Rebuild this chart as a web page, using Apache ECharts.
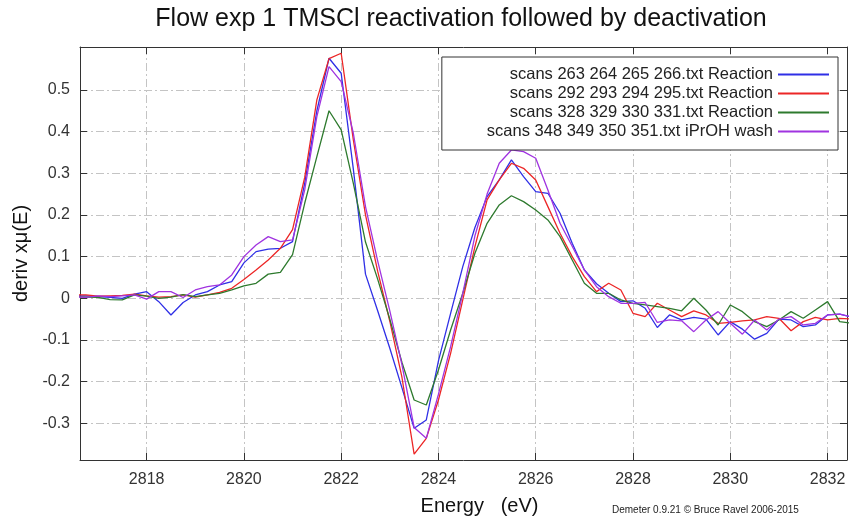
<!DOCTYPE html>
<html>
<head>
<meta charset="utf-8">
<title>Flow exp 1 TMSCl reactivation followed by deactivation</title>
<script src="https://cdn.jsdelivr.net/npm/echarts@6/dist/echarts.min.js"></script>
<style>
  html, body { margin: 0; padding: 0; background: #fff; }
  #chart { width: 852px; height: 522px; }
</style>
</head>
<body>
<div id="chart"></div>
<script>
// energy grid (eV)
const energy = [
  2816.5, 2816.75, 2817, 2817.25, 2817.5, 2817.75, 2818, 2818.25, 2818.5, 2818.75,
  2819, 2819.25, 2819.5, 2819.75, 2820, 2820.25, 2820.5, 2820.75, 2821, 2821.25,
  2821.5, 2821.75, 2822, 2822.25, 2822.5, 2822.75, 2823, 2823.25, 2823.5, 2823.75,
  2824, 2824.25, 2824.5, 2824.75, 2825, 2825.25, 2825.5, 2825.75, 2826, 2826.25,
  2826.5, 2826.75, 2827, 2827.25, 2827.5, 2827.75, 2828, 2828.25, 2828.5, 2828.75,
  2829, 2829.25, 2829.5, 2829.75, 2830, 2830.25, 2830.5, 2830.75, 2831, 2831.25,
  2831.5, 2831.75, 2832, 2832.25, 2832.5
]

// deriv xmu(E) per scan set
const scans263 = [
  0.006, 0.006, 0.004, 0.002, 0.0, 0.01, 0.016, -0.008, -0.04, -0.01,
  0.008, 0.016, 0.032, 0.04, 0.085, 0.112, 0.118, 0.12, 0.136, 0.276,
  0.45, 0.576, 0.54, 0.31, 0.058, -0.03, -0.12, -0.215, -0.312, -0.292,
  -0.15, -0.036, 0.076, 0.17, 0.244, 0.284, 0.332, 0.292, 0.256, 0.252,
  0.204, 0.132, 0.068, 0.035, 0.012, -0.008, -0.006, -0.024, -0.07, -0.04,
  -0.052, -0.046, -0.05, -0.088, -0.056, -0.074, -0.098, -0.084, -0.05, -0.052,
  -0.068, -0.064, -0.04, -0.038, -0.045
]
const scans292 = [
  0.008, 0.008, 0.005, 0.006, 0.007, 0.01, 0.006, 0.003, 0.004, 0.008,
  0.003, 0.008, 0.014, 0.024, 0.045, 0.068, 0.092, 0.12, 0.165, 0.29,
  0.476, 0.575, 0.588, 0.38, 0.2, 0.065, -0.055, -0.19, -0.374, -0.336,
  -0.244, -0.132, -0.004, 0.124, 0.236, 0.284, 0.324, 0.312, 0.284, 0.22,
  0.156, 0.1, 0.052, 0.016, 0.036, 0.02, -0.036, -0.044, -0.012, -0.028,
  -0.044, -0.03, -0.04, -0.06, -0.058, -0.054, -0.052, -0.044, -0.048, -0.078,
  -0.056, -0.046, -0.052, -0.048, -0.05
]
const scans328 = [
  0.004, 0.003, 0.002, -0.003, -0.004, 0.008, 0.005, 0.0, 0.003, 0.009,
  0.004, 0.008, 0.012, 0.02, 0.03, 0.036, 0.058, 0.062, 0.105, 0.228,
  0.34, 0.45, 0.404, 0.276, 0.135, 0.046, -0.05, -0.154, -0.244, -0.256,
  -0.172, -0.076, 0.012, 0.108, 0.18, 0.224, 0.246, 0.232, 0.212, 0.188,
  0.148, 0.092, 0.036, 0.012, 0.012, -0.004, -0.012, -0.016, -0.02, -0.024,
  -0.03, 0.0, -0.028, -0.064, -0.016, -0.032, -0.056, -0.068, -0.052, -0.032,
  -0.048, -0.028, -0.008, -0.056, -0.06
]
const scans348 = [
  0.004, 0.002, 0.006, 0.004, 0.006, 0.008, -0.002, 0.016, 0.016, 0.002,
  0.02, 0.028, 0.032, 0.056, 0.1, 0.128, 0.148, 0.136, 0.14, 0.26,
  0.436, 0.556, 0.52, 0.396, 0.22, 0.09, -0.03, -0.16, -0.31, -0.336,
  -0.23, -0.116, 0.012, 0.15, 0.25, 0.324, 0.356, 0.352, 0.336, 0.26,
  0.18, 0.125, 0.068, 0.028, 0.004, -0.012, -0.012, -0.01, -0.058, -0.052,
  -0.054, -0.08, -0.052, -0.032, -0.06, -0.086, -0.052, -0.076, -0.05, -0.044,
  -0.064, -0.06, -0.04, -0.038, -0.045
]

const seriesNames = [
  'scans 263 264 265 266.txt Reaction',
  'scans 292 293 294 295.txt Reaction',
  'scans 328 329 330 331.txt Reaction',
  'scans 348 349 350 351.txt iPrOH wash'
]
const xTicks = [2818, 2820, 2822, 2824, 2826, 2828, 2830, 2832]
const yTicks = [-0.3, -0.2, -0.1, 0, 0.1, 0.2, 0.3, 0.4, 0.5]

const colors = ['#2f2fe6', '#ec2626', '#2e7a2e', '#a033e0']
const font = 'Liberation Sans, Arial, sans-serif'

const chart = echarts.init(document.getElementById('chart'), null, { renderer: 'canvas' })

const toPairs = vals => energy.map((e, i) => [e, vals[i]])
const allData = [scans263, scans292, scans328, scans348]

const gridDash = [8, 3, 2, 3]
const boxLine = { show: true, onZero: false, lineStyle: { color: '#333', width: 1 } }

const option = {
  animation: false,
  backgroundColor: '#fff',
  textStyle: { fontFamily: font },
  title: {
    text: 'Flow exp 1 TMSCl reactivation followed by deactivation',
    left: 461,
    top: 7,
    padding: 0,
    textAlign: 'center',
    textStyle: { fontFamily: font, fontSize: 25, fontWeight: 'normal', color: '#111' }
  },
  legend: {
    orient: 'vertical',
    align: 'right',
    right: 14,
    top: 57,
    padding: [9, 8, 10, 45],
    itemWidth: 51,
    itemHeight: 14,
    itemGap: 2,
    backgroundColor: '#fff',
    borderColor: '#333',
    borderWidth: 1,
    itemStyle: { opacity: 0 },
    data: seriesNames,
    textStyle: { fontFamily: font, fontSize: 16.5, color: '#222' }
  },
  grid: {
    left: 80,
    right: 5,
    top: 47,
    bottom: 62,
    containLabel: false,
    outerBoundsMode: 'none'
  },
  xAxis: [
    {
      type: 'value',
      position: 'bottom',
      min: 2816.63,
      max: 2832.4,
      name: 'Energy   (eV)',
      nameLocation: 'middle',
      nameGap: 36,
      nameTextStyle: { fontFamily: font, fontSize: 20, color: '#111', padding: [0, 0, 0, 32] },
      axisLine: boxLine,
      axisTick: { show: true, inside: true, length: 7, customValues: xTicks, lineStyle: { color: '#333' } },
      axisLabel: {
        customValues: xTicks, margin: 12, fontSize: 16, color: '#333', fontFamily: font,
        formatter: v => String(v)
      },
      splitLine: { show: true, lineStyle: { color: '#c4c4c4', type: gridDash, width: 1 } }
    },
    {
      type: 'value',
      position: 'top',
      min: 2816.63,
      max: 2832.4,
      axisLine: boxLine,
      axisTick: { show: true, inside: true, length: 7, customValues: xTicks, lineStyle: { color: '#333' } },
      axisLabel: { show: false },
      splitLine: { show: false }
    }
  ],
  yAxis: [
    {
      type: 'value',
      position: 'left',
      min: -0.388,
      max: 0.603,
      name: 'deriv xμ(E)',
      nameLocation: 'middle',
      nameGap: 46,
      nameTextStyle: { fontFamily: font, fontSize: 20, color: '#111' },
      axisLine: boxLine,
      axisTick: { show: true, inside: true, length: 7, customValues: yTicks, lineStyle: { color: '#333' } },
      axisLabel: { customValues: yTicks, margin: 10, fontSize: 16, color: '#333', fontFamily: font },
      splitLine: { show: true, lineStyle: { color: '#c4c4c4', type: gridDash, width: 1 } }
    },
    {
      type: 'value',
      position: 'right',
      min: -0.388,
      max: 0.603,
      axisLine: boxLine,
      axisTick: { show: true, inside: true, length: 7, customValues: yTicks, lineStyle: { color: '#333' } },
      axisLabel: { show: false },
      splitLine: { show: false }
    }
  ],
  graphic: [
    {
      type: 'text',
      left: 612,
      top: 505,
      style: {
        text: 'Demeter 0.9.21 © Bruce Ravel 2006-2015',
        fontFamily: font,
        fontSize: 10,
        fill: '#222'
      }
    }
  ],
  series: allData.map((vals, i) => ({
    name: seriesNames[i],
    type: 'line',
    xAxisIndex: 0,
    yAxisIndex: 0,
    data: toPairs(vals),
    symbol: 'none',
    smooth: false,
    clip: true,
    color: colors[i],
    lineStyle: { color: colors[i], width: 1.3 }
  }))
}

chart.setOption(option)
</script>
</body>
</html>
